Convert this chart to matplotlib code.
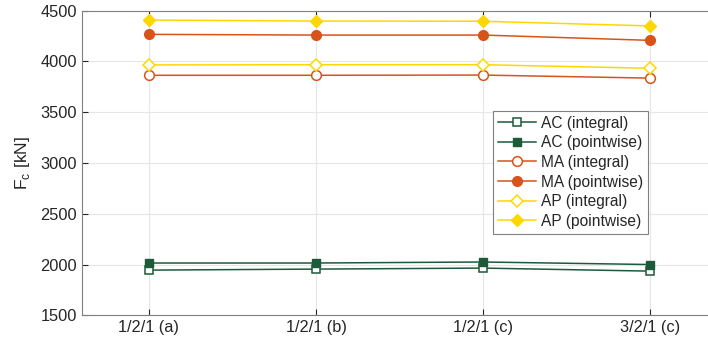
import matplotlib
matplotlib.use("Agg")
import matplotlib.pyplot as plt

categories = ["1/2/1 (a)", "1/2/1 (b)", "1/2/1 (c)", "3/2/1 (c)"]
ac_integral = [1945, 1955, 1965, 1935]
ac_pointwise = [2015, 2015, 2025, 2000]
ma_integral = [3864, 3864, 3866, 3836]
ma_pointwise = [4267, 4260, 4260, 4208]
ap_integral = [3966, 3968, 3968, 3933]
ap_pointwise = [4408, 4398, 4396, 4350]

plt.rcParams['font.family'] = ['Liberation Sans', 'DejaVu Sans']

green = '#1d5a3a'
orange = '#d95319'
yellow = '#ffd700'

fig = plt.figure(figsize=(7.08, 3.46), dpi=100)
ax = fig.add_axes([82/708, 30.7/346, 635/708, 304.6/346])

x = list(range(1, len(categories) + 1))
lw = 1.1
ax.plot(x, ac_integral, color=green, lw=lw, marker='s', ms=6, mfc='white', mec=green, mew=1.1, label='AC (integral)')
ax.plot(x, ac_pointwise, color=green, lw=lw, marker='s', ms=6, mfc=green, mec=green, label='AC (pointwise)')
ax.plot(x, ma_integral, color=orange, lw=lw, marker='o', ms=7, mfc='white', mec=orange, mew=1.1, label='MA (integral)')
ax.plot(x, ma_pointwise, color=orange, lw=lw, marker='o', ms=7, mfc=orange, mec=orange, label='MA (pointwise)')
ax.plot(x, ap_integral, color=yellow, lw=lw, marker='D', ms=6, mfc='white', mec=yellow, mew=1.1, label='AP (integral)')
ax.plot(x, ap_pointwise, color=yellow, lw=lw, marker='D', ms=6, mfc=yellow, mec=yellow, label='AP (pointwise)')

ax.set_xlim(0.6, 4.4)
ax.set_ylim(1500, 4500)
ax.set_xticks(x)
ax.set_xticklabels(categories)
ax.set_yticks(range(1500, 4501, 500))
ax.grid(True, color='#e6e6e6', lw=0.8)
ax.set_axisbelow(True)
ax.tick_params(direction='in', top=True, right=False, labelsize=11.8, colors='#262626', length=4)
for s in ['left', 'bottom', 'top']:
    ax.spines[s].set_color('#808080')
ax.spines['right'].set_visible(False)

ax.set_ylabel(r'F$_\mathregular{c}$ [kN]', fontsize=12.5, color='#262626', labelpad=6)

leg = ax.legend(loc='upper left', bbox_to_anchor=(0.647, 0.671), borderaxespad=0,
                fontsize=11.2, labelspacing=0.3, handlelength=2.45, handletextpad=0.35,
                fancybox=False, framealpha=1, edgecolor='#808080', borderpad=0.3)
leg.get_frame().set_linewidth(0.8)
for t in leg.get_texts():
    t.set_color('#262626')

fig.savefig('out.png', dpi=100)
